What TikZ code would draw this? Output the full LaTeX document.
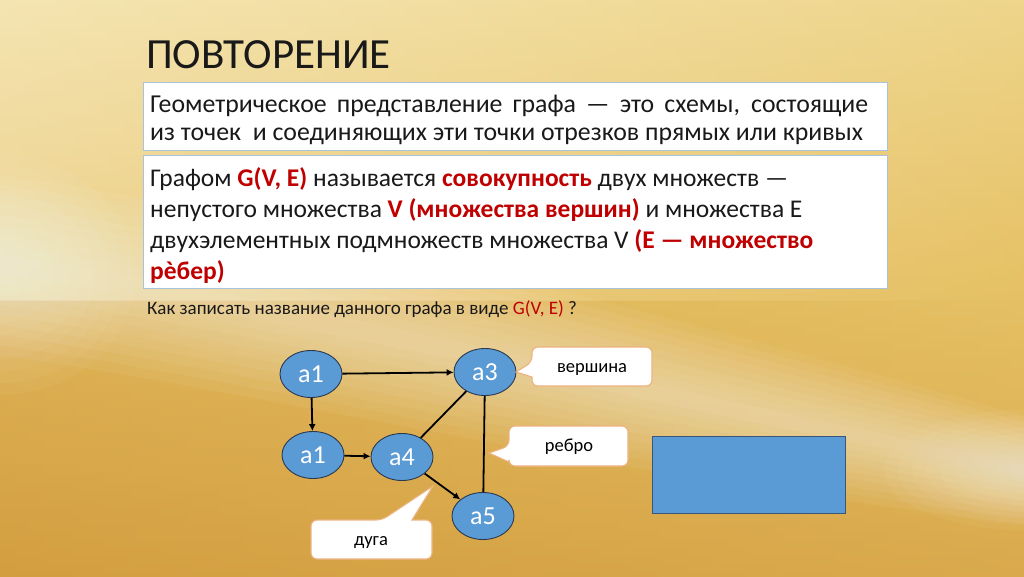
\documentclass[tikz,border=0pt]{standalone}
\usepackage{fontspec}
\setmainfont{Carlito}
\usetikzlibrary{arrows.meta,shapes.geometric}
\definecolor{nodeblue}{HTML}{5B9BD5}
\definecolor{nodeedge}{HTML}{2A3850}
\definecolor{hl}{HTML}{C00000}
\definecolor{boxedge}{HTML}{A9C3DA}
\definecolor{calledge}{HTML}{EDB27E}
\definecolor{bgtop}{HTML}{F1DC98}
\definecolor{bgmid}{HTML}{E6C165}
\definecolor{bgbot}{HTML}{D39E40}
\tikzset{
  vert/.style={ellipse, fill=nodeblue, draw=nodeedge, line width=0.9pt, minimum width=62pt, minimum height=47pt, inner sep=0pt, text=white, font=\fontsize{26}{26}\selectfont},
  arc/.style={line width=1.8pt, -{Latex[length=7pt,width=7pt]}},
  edge/.style={line width=1.8pt},
  textbox/.style={draw=boxedge, line width=1.3pt, fill=white, anchor=north west, inner sep=0pt},
  callout/.style={draw=calledge, line width=1.1pt, fill=white},
  calltext/.style={font=\fontsize{18.5}{18.5}\selectfont, text=black},
  line1/.style={anchor=base west, inner sep=0pt, font=\fontsize{25.8}{28}\selectfont, text=black!90},
  line2/.style={anchor=base west, inner sep=0pt, font=\fontsize{25.5}{31}\selectfont, text=black!90},
}
\newcommand{\red}[1]{\textcolor{hl}{\textbf{#1}}}
\begin{document}
\begin{tikzpicture}[x=1pt,y=-1pt]
\useasboundingbox (0,0) rectangle (1024,576);
% background
\shade[top color=bgtop, bottom color=bgbot, middle color=bgmid] (0,0) rectangle (1024,576);
\shade[left color=bgbot, right color=bgmid, opacity=0.35] (0,300) rectangle (1024,576);
\shade[left color=white, right color=bgmid, opacity=0.25] (0,0) rectangle (1024,300);
\foreach \w in {90,80,...,10}{
  \fill[white, opacity=0.055] (0,265-\w) .. controls (250,300-\w) and (600,385-\w) .. (1024,470-\w*0.6)
     -- (1024,470+\w*0.6) .. controls (600,385+\w) and (250,300+\w) .. (0,265+\w) -- cycle;
}
\foreach \r in {150,135,...,15}{
  \fill[white, opacity=0.04] (0,275) ellipse ({\r*0.9} and {\r*0.8});
}
\foreach \r in {100,90,...,10}{
  \fill[white, opacity=0.04] (1024,470) ellipse ({\r*1.4} and {\r*0.6});
}

% title
\node[anchor=base west, inner sep=0pt, font=\fontsize{43}{43}\selectfont, text=black!90] (title) at (146,68) {ПОВТОРЕНИЕ};

% box 1
\node[textbox, minimum width=744pt, minimum height=68pt] (box1) at (143,82) {};
\node[line1] (b1l1) at (150,112) {\makebox[718pt][s]{Геометрическое представление графа — это схемы, состоящие}};
\node[line1] (b1l2) at (150,140) {из точек\ \ и соединяющих эти точки отрезков прямых или кривых};

% box 2
\node[textbox, minimum width=744pt, minimum height=133pt] (box2) at (143,155) {};
\node[line2] (b2l1) at (150,186) {Графом \red{G(V, E)} называется \red{совокупность} двух множеств —};
\node[line2] (b2l2) at (150,217) {непустого множества \red{V (множества вершин)} и множества Е};
\node[line2] (b2l3) at (150,248) {двухэлементных подмножеств множества V \red{(Е — множество}};
\node[line2] (b2l4) at (150,279) {\red{рѐбер)}};

% question
\node[anchor=base west, inner sep=0pt, font=\fontsize{19}{21}\selectfont, text=black!90] (q) at (147,314) {Как записать название данного графа в виде \red{\mdseries G(V, E)} ?};

% graph
\node[vert] (a1t) at (311,374) {a1};
\node[vert] (a3) at (485,372) {a3};
\node[vert] (a1b) at (313,455) {a1};
\node[vert] (a4) at (402,457) {a4};
\node[vert] (a5) at (483,516) {a5};
\draw[arc] (a1t) -- (a3);
\draw[arc] (a1t) -- (a1b);
\draw[arc] (a1b) -- (a4);
\draw[edge] (a4) -- (a3);
\draw[edge] (a3) -- (a5);
\draw[arc] (a4) -- (a5);

% callouts
\draw[callout] (532,377) [rounded corners=6pt] -- (532,386) -- (652,386) -- (652,347) -- (532,347) -- (532,362) [sharp corners] -- (516,372) -- cycle;
\node[calltext] (tV) at (592,369) {вершина};
\draw[callout] (509,462) [rounded corners=6pt] -- (509,466) -- (628,466) -- (628,426) -- (509,426) -- (509,446) [sharp corners] -- (489,453) -- cycle;
\node[calltext] (tR) at (569,447) {ребро};
\draw[callout] (412,520) [rounded corners=6pt] -- (432,520) -- (432,559) -- (311,559) -- (311,520) -- (382,520) [sharp corners] -- (433,486) -- cycle;
\node[calltext] (tD) at (371,543) {дуга};

% blank rectangle
\node[draw=nodeedge!70!nodeblue, line width=0.8pt, fill=nodeblue, minimum width=193pt, minimum height=77pt, anchor=north west, inner sep=0pt] (blank) at (652,436) {};
\end{tikzpicture}
\end{document}
